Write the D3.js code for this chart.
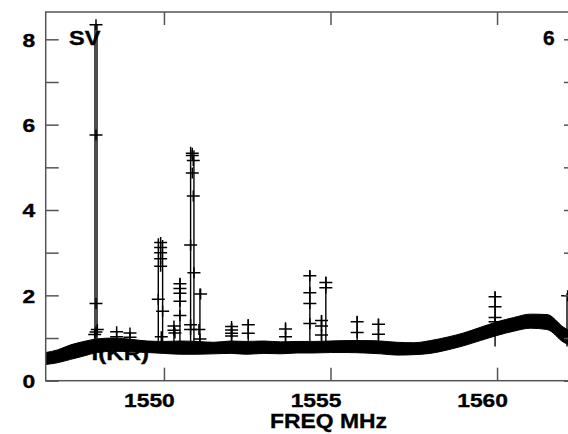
<!DOCTYPE html>
<html>
<head>
<meta charset="utf-8">
<script src="https://cdn.jsdelivr.net/npm/d3@7"></script>
<style>
  body { margin: 0; background: #fff; }
  svg { display: block; }
  text { font-family: "Liberation Sans", Arial, sans-serif; font-weight: bold; fill: #000; stroke: #000; stroke-width: 0.35px; }
</style>
</head>
<body>
<div id="chart"></div>
<script>
// baseline band of the spectrum (upper / lower edge of the noisy trace)
let baseFreq = [1546.45, 1546.8, 1547.2, 1547.6, 1548.0, 1548.5, 1549.0, 1549.5, 1550.0, 1550.5,
                1551.0, 1551.5, 1552.0, 1552.5, 1553.0, 1553.5, 1554.0, 1554.5, 1555.0, 1555.5,
                1556.0, 1556.5, 1557.0, 1557.5, 1558.0, 1558.5, 1559.0, 1559.5, 1560.0, 1560.5,
                1561.0, 1561.5, 1562.0, 1562.4];
let baseHi = [0.66, 0.72, 0.84, 0.92, 0.98, 1.0, 0.97, 0.93, 0.92, 0.93,
              0.92, 0.9, 0.93, 0.92, 0.93, 0.91, 0.92, 0.92, 0.93, 0.94,
              0.94, 0.93, 0.9, 0.89, 0.94, 1.02, 1.12, 1.25, 1.38, 1.48,
              1.56, 1.55, 1.25, 1.08];
let baseLo = [0.38, 0.42, 0.5, 0.58, 0.66, 0.69, 0.68, 0.66, 0.64, 0.62,
              0.62, 0.63, 0.64, 0.62, 0.64, 0.63, 0.65, 0.65, 0.66, 0.66,
              0.65, 0.63, 0.6, 0.61, 0.64, 0.72, 0.82, 0.94, 1.06, 1.16,
              1.23, 1.2, 0.9, 0.78];

// interference spikes: frequency and top of the line
let spikeFreq = [1547.93, 1547.99, 1549.83, 1549.96, 1550.3, 1550.48, 1550.8, 1550.9, 1551.08,
                 1552.03, 1552.53, 1553.65, 1554.38, 1554.73, 1554.86, 1555.8, 1556.44, 1559.94, 1562.1];
let spikeTop = [8.36, 8.36, 3.34, 3.30, 1.30, 2.41, 5.48, 5.40, 2.16,
                1.35, 1.44, 1.37, 2.59, 1.54, 2.44, 1.52, 1.46, 2.09, 2.05];

// plotted points (plus markers)
let markFreq = [1547.96, 1547.96, 1547.96, 1547.96, 1547.92, 1548.0,
                1548.58, 1548.58, 1548.98, 1548.98,
                1549.9, 1549.9, 1549.9, 1549.9, 1549.9, 1549.83, 1549.96, 1549.92,
                1550.3, 1550.3, 1550.33,
                1550.48, 1550.48, 1550.48, 1550.48, 1550.48,
                1550.85, 1550.85, 1550.88, 1550.85, 1550.88, 1550.8, 1550.9, 1550.8, 1550.8,
                1551.1, 1551.05, 1551.08,
                1552.03, 1552.03, 1552.03, 1552.03,
                1552.53, 1552.53,
                1553.65, 1553.65,
                1554.38, 1554.38, 1554.38, 1554.38,
                1554.73, 1554.73, 1554.73,
                1554.86, 1554.86,
                1555.8, 1555.8,
                1556.44, 1556.44,
                1559.94, 1559.94, 1559.94, 1559.94,
                1562.12];
let markVal = [8.34, 5.76, 1.81, 1.14, 1.08, 1.2,
               1.15, 1.03, 1.12, 1.02,
               3.24, 3.12, 3.0, 2.86, 2.68, 1.91, 1.63, 1.03,
               1.28, 1.18, 1.12,
               2.27, 2.16, 2.05, 1.86, 1.53,
               5.33, 5.28, 5.16, 4.87, 4.33, 3.18, 2.53, 1.31, 1.2,
               2.03, 1.2, 0.98,
               1.27, 1.19, 1.11, 1.05,
               1.31, 1.11,
               1.21, 1.03,
               2.46, 2.06, 1.81, 1.34,
               1.41, 1.28, 1.07,
               2.30, 2.18,
               1.38, 1.13,
               1.32, 1.09,
               1.97, 1.73, 1.48, 1.38,
               1.99];

let xTicks = [1550, 1555, 1560];
let yTicks = [0, 2, 4, 6, 8];
let yMinor = [1, 3, 5, 7];

function drawChart() {
    let width = 568, height = 434;
    let left = 45.7, right = 577, top = 12, bottom = 380.7;

    let svg = d3.select("#chart").append("svg")
        .attr("width", width)
        .attr("height", height);

    let x = d3.scaleLinear().domain([1546.45, 1562.4]).range([left, right]);
    let y = d3.scaleLinear().domain([0, 8.64]).range([bottom, top]);

    svg.append("clipPath").attr("id", "plotclip")
        .append("rect").attr("x", left).attr("y", top)
        .attr("width", right - left).attr("height", bottom - top);

    let plot = svg.append("g").attr("clip-path", "url(#plotclip)");

    // baseline band
    let base = baseFreq.map((f, i) => ({f: f, hi: baseHi[i], lo: baseLo[i]}));
    plot.append("path")
        .datum(base)
        .attr("fill", "#000")
        .attr("stroke", "#000")
        .attr("stroke-width", 1)
        .attr("d", d3.area()
            .x(d => x(d.f))
            .y0(d => y(d.lo))
            .y1(d => y(d.hi))
            .curve(d3.curveMonotoneX));

    // spikes
    plot.selectAll(".spike")
        .data(spikeFreq)
        .join("line")
        .attr("x1", d => x(d))
        .attr("x2", d => x(d))
        .attr("y1", y(0.8))
        .attr("y2", (d, i) => y(spikeTop[i]))
        .attr("stroke", "#000")
        .attr("stroke-width", 1.4);

    // plus markers
    plot.selectAll(".mark")
        .data(markFreq)
        .join("path")
        .attr("transform", (d, i) => "translate(" + x(d) + "," + y(markVal[i]) + ")")
        .attr("d", "M-6.5,0H6.5M0,-5.5V5.5")
        .attr("fill", "none")
        .attr("stroke", "#000")
        .attr("stroke-width", 1.5);

    // frame
    let frameColor = "#555";
    svg.append("rect")
        .attr("x", left).attr("y", top)
        .attr("width", right - left).attr("height", bottom - top)
        .attr("fill", "none").attr("stroke", frameColor).attr("stroke-width", 1.5);

    // bottom axis
    let gx = svg.append("g")
        .attr("transform", "translate(0," + bottom + ")")
        .call(d3.axisBottom(x).tickValues(xTicks).tickSizeInner(-13).tickSizeOuter(0).tickPadding(0).tickFormat(d3.format("d")));
    gx.select(".domain").remove();
    gx.selectAll(".tick line").attr("stroke", frameColor).attr("stroke-width", 1.5);
    gx.selectAll(".tick text")
        .attr("y", 26).attr("dy", null)
        .attr("transform", "translate(-15,0) scale(1.2,1)")
        .style("font-size", "19px");

    // top ticks
    let gt = svg.append("g")
        .attr("transform", "translate(0," + top + ")")
        .call(d3.axisTop(x).tickValues(xTicks).tickSizeInner(-13).tickSizeOuter(0).tickFormat(""));
    gt.select(".domain").remove();
    gt.selectAll(".tick line").attr("stroke", frameColor).attr("stroke-width", 1.5);

    // left axis
    let gy = svg.append("g")
        .attr("transform", "translate(" + left + ",0)")
        .call(d3.axisLeft(y).tickValues(yTicks).tickSizeInner(-13).tickSizeOuter(0).tickPadding(0));
    gy.select(".domain").remove();
    gy.selectAll(".tick line").attr("stroke", frameColor).attr("stroke-width", 1.5);
    gy.selectAll(".tick text")
        .attr("x", 0).attr("dy", "0.36em")
        .attr("transform", "translate(-10.5,0) scale(1.2,1)")
        .style("font-size", "19px");

    let gym = svg.append("g")
        .attr("transform", "translate(" + left + ",0)")
        .call(d3.axisLeft(y).tickValues(yMinor).tickSizeInner(-13).tickSizeOuter(0).tickFormat(""));
    gym.select(".domain").remove();
    gym.selectAll(".tick line").attr("stroke", frameColor).attr("stroke-width", 1.5);

    // right ticks
    let gr = svg.append("g")
        .attr("transform", "translate(" + right + ",0)")
        .call(d3.axisRight(y).tickValues(yTicks.concat(yMinor)).tickSizeInner(-13).tickSizeOuter(0).tickFormat(""));
    gr.select(".domain").remove();
    gr.selectAll(".tick line").attr("stroke", frameColor).attr("stroke-width", 1.5);

    // axis title
    svg.append("text")
        .attr("transform", "translate(328.5,428) scale(1.09,1)")
        .attr("text-anchor", "middle")
        .style("font-size", "21px")
        .text("FREQ MHz");

    // annotations
    svg.append("text")
        .attr("transform", "translate(69,45) scale(1.12,1)")
        .style("font-size", "21px")
        .text("SV");
    svg.append("text")
        .attr("transform", "translate(543,45)")
        .style("font-size", "21px")
        .text("6");
    svg.append("text")
        .attr("transform", "translate(91.5,360) scale(1.15,1)")
        .style("font-size", "21px")
        .text("I(KR)");
}

drawChart();
</script>
</body>
</html>
